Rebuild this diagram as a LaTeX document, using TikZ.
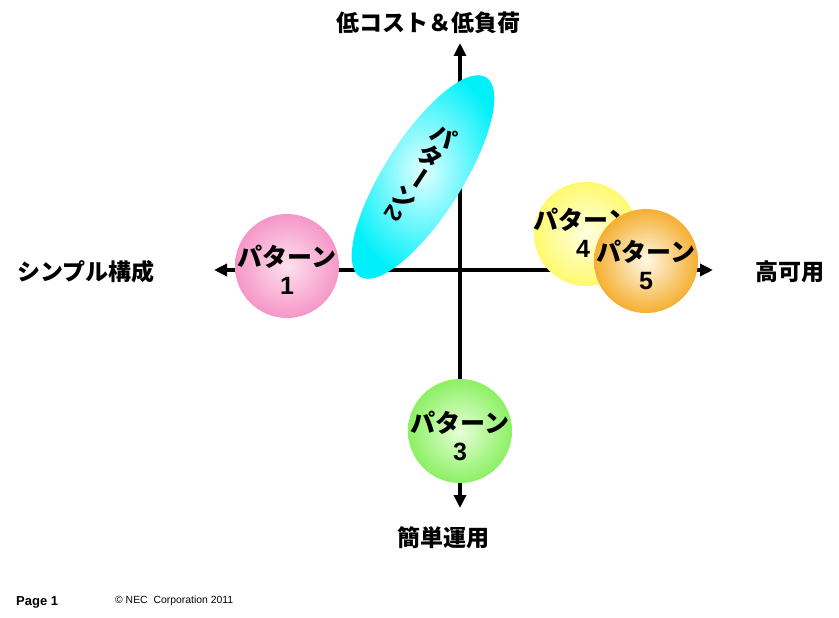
\documentclass[tikz,border=0pt]{standalone}
\usepackage{fontspec}
\setmainfont{Liberation Sans}
\newfontfamily\jp{Noto Sans CJK JP}
\newcommand\dg[1]{{\rmfamily\bfseries #1}}
\usetikzlibrary{arrows.meta,shapes.geometric}
\definecolor{pinkO}{RGB}{246,150,200}
\definecolor{pinkI}{RGB}{253,225,238}
\definecolor{cyanO}{RGB}{0,240,250}
\definecolor{cyanI}{RGB}{225,255,255}
\definecolor{greenO}{RGB}{140,240,100}
\definecolor{greenI}{RGB}{230,255,215}
\definecolor{yellowO}{RGB}{255,250,110}
\definecolor{yellowI}{RGB}{255,255,225}
\definecolor{orangeO}{RGB}{245,175,50}
\definecolor{orangeI}{RGB}{255,248,230}
\tikzset{
  axis/.style={line width=4pt,{Triangle[length=13pt,width=12pt]}-{Triangle[length=13pt,width=12pt]}},
  axlabel/.style={font=\jp\bfseries\fontsize{23}{26}\selectfont, inner sep=0pt},
  ball/.style={circle, minimum size=104pt, inner sep=0pt, shading=radial},
  balltext/.style={inner sep=0pt, align=center, font=\jp\bfseries\fontsize{25}{28}\selectfont},
  vchar/.style={inner sep=0pt, font=\jp\bfseries\fontsize{24}{26}\selectfont},
  foot/.style={anchor=west, inner sep=0pt}
}
\begin{document}
\begin{tikzpicture}[x=1pt,y=-1pt]
\useasboundingbox (0,0) rectangle (839,618);
\fill[white] (0,0) rectangle (839,618);
% axes
\coordinate (top) at (460,43);
\coordinate (bot) at (460,508);
\coordinate (lft) at (214,270);
\coordinate (rgt) at (713,270);
\draw[axis] (bot) -- (top);
\draw[axis] (lft) -- (rgt);
% axis labels
\node[axlabel] (lt) at (428,23) {低コスト＆低負荷};
\node[axlabel] (ll) at (86,272) {シンプル構成};
\node[axlabel] (lr) at (790,272) {高可用};
\node[axlabel] (lb) at (443,538) {簡単運用};
% pattern 1
\node[ball, inner color=pinkI, outer color=pinkO] (p1) at (287,266) {};
\node[balltext] (t1) at (287,270) {パターン\\\dg{1}};
% pattern 2 (vertical text in a tilted ellipse)
\node[ellipse, minimum width=236pt, minimum height=78pt, inner sep=0pt, shading=radial,
  inner color=cyanI, outer color=cyanO, rotate=57.6] (p2) at (423,177) {};
\node[vchar, rotate=-33] (c1) at (444.0,136.1) {パ};
\node[vchar, rotate=-33] (c2) at (430.7,156.6) {タ};
\node[vchar, rotate=-123] (c3) at (417.4,177.0) {ー};
\node[vchar, rotate=-33] (c4) at (404.1,197.5) {ン};
\node[vchar, rotate=-123] (c5) at (393.4,213.9) {\dg{2}};
% pattern 3
\node[ball, inner color=greenI, outer color=greenO] (p3) at (460,431) {};
\node[balltext] (t3) at (460,436) {パターン\\\dg{3}};
% pattern 4
\node[ball, inner color=yellowI, outer color=yellowO] (p4) at (586,234) {};
\node[balltext] (t4) at (583,233) {パターン\\\dg{4}};
% pattern 5
\node[ball, inner color=orangeI, outer color=orangeO] (p5) at (646,261) {};
\node[balltext] (t5) at (646,265) {パターン\\\dg{5}};
% footer
\node[foot, font=\bfseries\fontsize{13}{15}\selectfont] (pg) at (16,602) {Page 1};
\node[foot, font=\fontsize{10.4}{12}\selectfont] (cp) at (115,601) {© NEC\hspace{3pt} Corporation 2011};
\end{tikzpicture}
\end{document}
